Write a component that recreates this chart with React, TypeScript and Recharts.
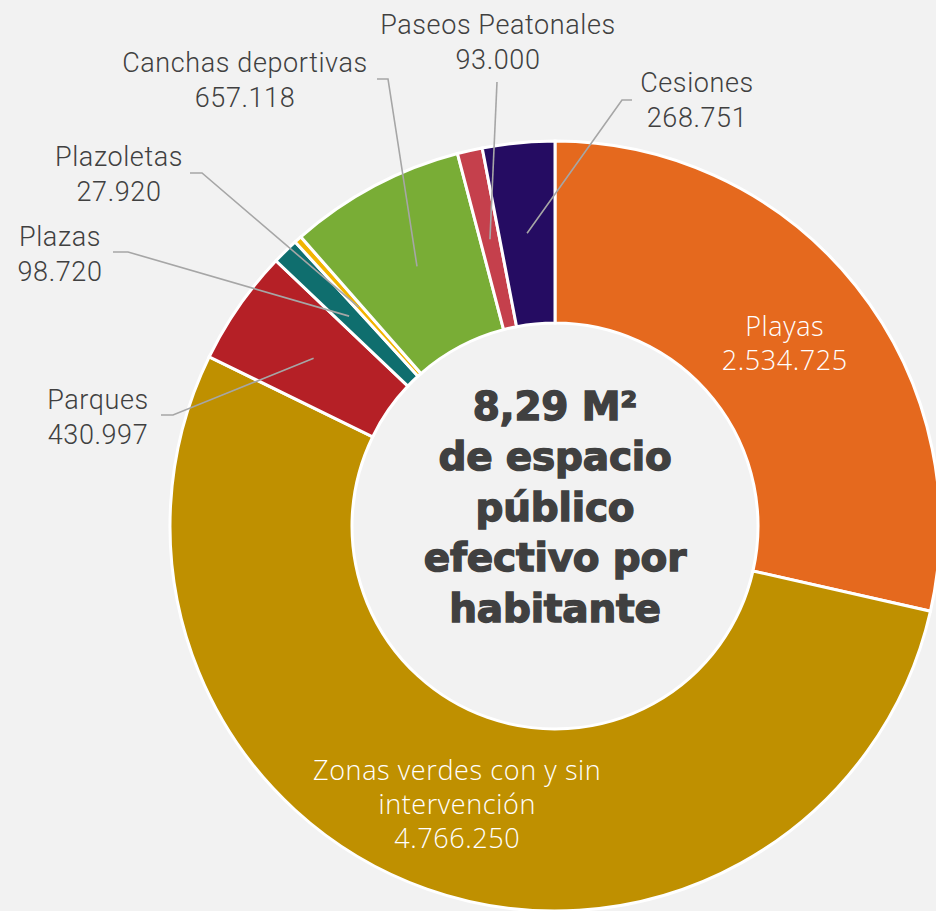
import React from 'react';
import { PieChart, Pie, Cell } from 'recharts';

// values in m² per category
const categories = [
  'Playas',
  'Zonas verdes con y sin intervención',
  'Parques',
  'Plazas',
  'Plazoletas',
  'Canchas deportivas',
  'Paseos Peatonales',
  'Cesiones',
];
const values = [2534725, 4766250, 430997, 98720, 27920, 657118, 93000, 268751];
const colors = ['#E5691E', '#BF9000', '#B52026', '#0F6E6E', '#F2B400', '#79AD36', '#C5404C', '#250C62'];
const centerLines = ['8,29 M²', 'de espacio', 'público', 'efectivo por', 'habitante'];

const data = categories.map((name, i) => ({ name, value: values[i] }));

const RAD = Math.PI / 180;
const CX = 555;
const CY = 526;
const INNER = 203;
const OUTER = 385;
const BG = '#F2F2F2';
const TEXT = '#404040';
const LEADER = '#A6A6A6';

const fmt = (v: number) => String(v).replace(/\B(?=(\d{3})+(?!\d))/g, '.');

// label placement: inside labels sit on the ring, outside ones get a leader
type Layout =
  | { inside: true; lines?: string[] }
  | { inside: false; x: number; y: number; elbow: [number, number]; tick?: [number, number] };

const layout: Record<string, Layout> = {
  Playas: { inside: true },
  'Zonas verdes con y sin intervención': { inside: true, lines: ['Zonas verdes con y sin', 'intervención'] },
  Parques: { inside: false, x: 98, y: 400, elbow: [173, 415], tick: [161, 415] },
  Plazas: { inside: false, x: 60, y: 237, elbow: [128, 252], tick: [113, 252] },
  Plazoletas: { inside: false, x: 119, y: 157, elbow: [202, 173], tick: [190, 173] },
  'Canchas deportivas': { inside: false, x: 245, y: 63, elbow: [388, 79], tick: [377, 79] },
  'Paseos Peatonales': { inside: false, x: 498, y: 25, elbow: [497, 82] },
  Cesiones: { inside: false, x: 697, y: 83, elbow: [622, 100], tick: [632, 100] },
};

const renderLabel = (props: any) => {
  const { cx, cy, midAngle, innerRadius, outerRadius, name, value } = props;
  const r = (innerRadius + outerRadius) / 2;
  const px = cx + r * Math.cos(-midAngle * RAD);
  const py = cy + r * Math.sin(-midAngle * RAD);
  const l = layout[name];
  if (!l) return null;
  if (l.inside) {
    const lines = [...(l.lines || [name]), fmt(value)];
    const step = 34;
    const y0 = py - ((lines.length - 1) * step) / 2;
    return (
      <g>
        {lines.map((t, i) => (
          <text
            key={i}
            x={px}
            y={y0 + i * step}
            textAnchor="middle"
            dominantBaseline="central"
            fill="#FFFFFF"
            fontFamily="'Open Sans', sans-serif"
            fontWeight={300}
            fontSize={27}
            letterSpacing={0.6}
          >
            {t}
          </text>
        ))}
      </g>
    );
  }
  const pts = [[px, py], l.elbow];
  if (l.tick) pts.push(l.tick);
  return (
    <g>
      <polyline points={pts.map((p) => p.join(',')).join(' ')} fill="none" stroke={LEADER} strokeWidth={1.6} />
      {[name, fmt(value)].map((t, i) => (
        <text
          key={i}
          x={l.x}
          y={l.y + i * 35}
          textAnchor="middle"
          dominantBaseline="central"
          fill={TEXT}
          fontFamily="Roboto, 'Liberation Sans', sans-serif"
          fontWeight={300}
          fontSize={27}
          letterSpacing={0.6}
        >
          {t}
        </text>
      ))}
    </g>
  );
};

export default function App() {
  return (
    <div style={{ position: 'absolute', left: 0, top: 0, width: 936, height: 911, background: BG, overflow: 'hidden' }}>
      <PieChart width={936} height={911} margin={{ top: 0, right: 0, bottom: 0, left: 0 }}>
        <Pie
          data={data}
          dataKey="value"
          nameKey="name"
          cx={CX}
          cy={CY}
          innerRadius={INNER}
          outerRadius={OUTER}
          startAngle={90}
          endAngle={-270}
          stroke="#FFFFFF"
          strokeWidth={3}
          label={renderLabel}
          labelLine={false}
          isAnimationActive={false}
        >
          {data.map((d, i) => (
            <Cell key={d.name} fill={colors[i]} />
          ))}
        </Pie>
        <g>
          {centerLines.map((t, i) => (
            <text
              key={i}
              x={CX}
              y={406 + i * 50.5}
              textAnchor="middle"
              dominantBaseline="central"
              fill={TEXT}
              stroke={TEXT}
              strokeWidth={1.4}
              paintOrder="stroke"
              fontFamily="'DejaVu Sans', sans-serif"
              fontWeight={700}
              fontSize={39}
              letterSpacing={-0.2}
            >
              {t}
            </text>
          ))}
        </g>
      </PieChart>
    </div>
  );
}
